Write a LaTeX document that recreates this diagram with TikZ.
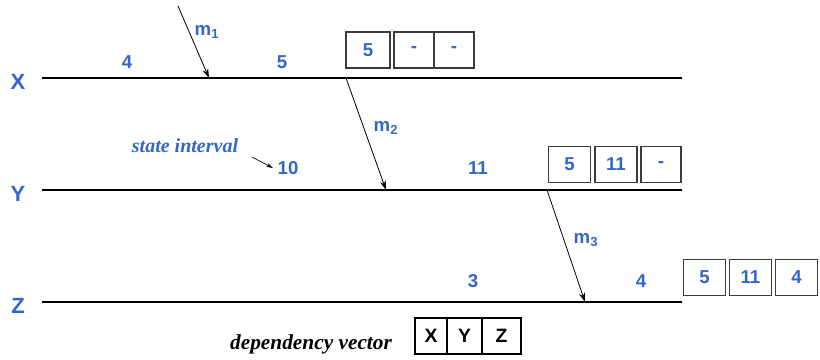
\documentclass[tikz,border=0pt]{standalone}
\usepackage{fontspec}
\setmainfont{Liberation Serif}
\setsansfont{Liberation Sans}
\definecolor{procblue}{RGB}{51, 102, 204}
\definecolor{boxgray}{RGB}{60, 60, 60}
\usetikzlibrary{arrows.meta, positioning, calc}

\begin{document}
\begin{tikzpicture}[x=0.75pt, y=-0.75pt,
  timeline/.style={line width=0.9pt},
  proclabel/.style={text=procblue, font=\sffamily\bfseries\fontsize{16.5}{18}\selectfont},
  num/.style={text=procblue, font=\sffamily\bfseries\fontsize{14}{16}\selectfont},
  msg/.style={-{Stealth[length=7pt, width=4.5pt]}, line width=0.6pt},
  vecbox/.style={draw=boxgray, line width=0.9pt, minimum height=27pt, inner sep=0pt,
    text=procblue, font=\sffamily\bfseries\fontsize{14}{16}\selectfont},
  depbox/.style={draw=black, line width=0.8pt, minimum height=27pt, inner sep=0pt,
    font=\sffamily\bfseries\fontsize{14.5}{16}\selectfont}]
  \useasboundingbox (0,0) rectangle (820,360);

  % processes
  \node[proclabel] (X) at (18,82) {X};
  \node[proclabel] (Y) at (18,194) {Y};
  \node[proclabel] (Z) at (18,306) {Z};
  \coordinate (xs) at (42,78);  \coordinate (xe) at (682,78);
  \coordinate (ys) at (42,190); \coordinate (ye) at (682,190);
  \coordinate (zs) at (42,302); \coordinate (ze) at (682,302);
  \draw[timeline] (xs) -- (xe);
  \draw[timeline] (ys) -- (ye);
  \draw[timeline] (zs) -- (ze);

  % state intervals
  \node[num] (x4) at (127,62) {4};
  \node[num] (x5) at (282,62) {5};
  \node[num] (y10) at (288,168) {10};
  \node[num] (y11) at (478,168) {11};
  \node[num] (z3) at (473,281) {3};
  \node[num] (z4) at (641,281) {4};

  % messages
  \coordinate (m1s) at (178,6);
  \coordinate (m1e) at (209,78);
  \coordinate (m2s) at (346,78);
  \coordinate (m2e) at (386,190);
  \coordinate (m3s) at (547,190);
  \coordinate (m3e) at (585,302);
  \draw[msg] (m1s) -- (m1e);
  \draw[msg] (m2s) -- (m2e);
  \draw[msg] (m3s) -- (m3e);
  \node[num] (m1) at (207,32) {m\textsubscript{1}};
  \node[num] (m2) at (386,128) {m\textsubscript{2}};
  \node[num] (m3) at (586,240) {m\textsubscript{3}};

  % dependency vectors
  \node[vecbox, minimum width=33pt] (vx1) at (368,50) {5};
  \node[vecbox, minimum width=30pt] (vx2) at (414,50) {-};
  \node[vecbox, minimum width=30pt] (vx3) at (454,50) {-};
  \node[vecbox, minimum width=32pt] (vy1) at (569.5,164.5) {5};
  \node[vecbox, minimum width=31.5pt] (vy2) at (616,164.5) {11};
  \node[vecbox, minimum width=30pt] (vy3) at (661,164.5) {-};
  \node[vecbox, minimum width=32pt] (vz1) at (704.5,277.5) {5};
  \node[vecbox, minimum width=32pt] (vz2) at (750.5,277.5) {11};
  \node[vecbox, minimum width=32pt] (vz3) at (796.5,277.5) {4};

  % legend
  \node[text=procblue, font=\bfseries\itshape\fontsize{15}{17}\selectfont] (si) at (185,146) {state interval};
  \coordinate (sis) at (252,157);
  \draw[-{Stealth[length=5pt, width=3pt]}, line width=0.5pt] (sis) -- (y10.west);
  \node[font=\bfseries\itshape\fontsize{16}{18}\selectfont] (dv) at (311,344) {dependency vector};
  \node[depbox, minimum width=24pt] (dX) at (431,336) {X};
  \node[depbox, minimum width=26.25pt] (dY) at (464.5,336) {Y};
  \node[depbox, minimum width=29.25pt] (dZ) at (501.5,336) {Z};
\end{tikzpicture}
\end{document}
